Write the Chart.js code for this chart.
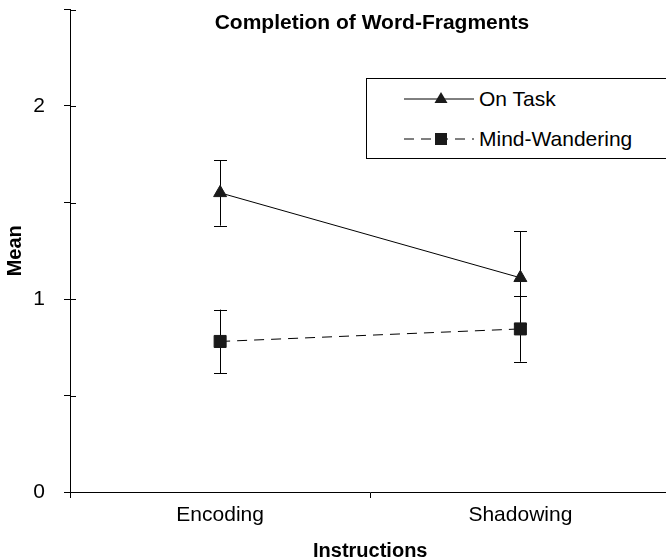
<!DOCTYPE html>
<html>
<head>
<meta charset="utf-8">
<script src="https://cdn.jsdelivr.net/npm/chart.js@4"></script>
<style>
  body { margin: 0; overflow: hidden; background: #fff; font-family: "Liberation Sans", Arial, sans-serif; }
  #wrap { position: relative; width: 680px; height: 560px; }
  #titulo { position: absolute; left: 70px; width: 604px; top: 10px; text-align: center; font-weight: bold; font-size: 21px; line-height: 24px; color: #000; }
  #legenda { position: absolute; left: 366px; top: 78px; width: 330px; height: 79px; border: 1px solid #000; background: #fff; }
  .item { position: absolute; left: 37px; height: 24px; font-size: 21px; line-height: 24px; color: #000; white-space: nowrap; }
  .item svg { position: absolute; left: 0; top: 2px; }
  .item span { position: absolute; left: 75px; top: 0; }
</style>
</head>
<body>
<div id="wrap">
  <canvas id="grafico"></canvas>
  <div id="titulo">Completion of Word-Fragments</div>
  <div id="legenda">
    <div class="item" style="top:8px">
      <svg width="72" height="20"><line x1="0" y1="10" x2="70" y2="10" stroke="#000" stroke-width="1"/><polygon points="37,3 43.5,14 30.5,14" fill="#1a1a1a"/></svg>
      <span>On Task</span>
    </div>
    <div class="item" style="top:48px">
      <svg width="72" height="20"><line x1="0" y1="10" x2="70" y2="10" stroke="#000" stroke-width="1" stroke-dasharray="10,7"/><rect x="31" y="4" width="12" height="12" fill="#1a1a1a"/></svg>
      <span>Mind-Wandering</span>
    </div>
  </div>
</div>
<script>
const categorias = ['Encoding', 'Shadowing'];
const onTask = [1.55, 1.11];
const onTaskErro = [0.17, 0.24];
const mindWandering = [0.78, 0.845];
const mindWanderingErro = [0.165, 0.17];
const yMin = 0, yMax = 2.5, yPasso = 0.5;

const fonte = "'Liberation Sans', Arial, sans-serif";

// barras de erro desenhadas pelas escalas do grafico
const barrasErro = {
  id: 'barrasErro',
  beforeDatasetsDraw(chart) {
    const ctx = chart.ctx;
    const x = chart.scales.x, y = chart.scales.y;
    ctx.save();
    ctx.strokeStyle = '#000';
    ctx.lineWidth = 1;
    chart.data.datasets.forEach(ds => {
      ds.data.forEach((v, i) => {
        const px = Math.round(x.getPixelForValue(i)) + 0.5;
        const topo = y.getPixelForValue(v + ds.erros[i]);
        const base = y.getPixelForValue(v - ds.erros[i]);
        ctx.beginPath();
        ctx.moveTo(px, topo); ctx.lineTo(px, base);
        ctx.moveTo(px - 6.5, Math.round(topo) + 0.5); ctx.lineTo(px + 6.5, Math.round(topo) + 0.5);
        ctx.moveTo(px - 6.5, Math.round(base) + 0.5); ctx.lineTo(px + 6.5, Math.round(base) + 0.5);
        ctx.stroke();
      });
    });
    ctx.restore();
  }
};

// marcas do eixo y cruzando a linha do eixo
const marcasY = {
  id: 'marcasY',
  afterDraw(chart) {
    const ctx = chart.ctx;
    const y = chart.scales.y;
    ctx.save();
    ctx.strokeStyle = '#000';
    ctx.lineWidth = 1;
    y.ticks.forEach(t => {
      const py = Math.round(y.getPixelForValue(t.value)) + 0.5;
      ctx.beginPath();
      ctx.moveTo(y.right, py); ctx.lineTo(y.right + 6, py);
      ctx.stroke();
    });
    ctx.restore();
  }
};

new Chart(document.getElementById('grafico'), {
  type: 'line',
  data: {
    labels: categorias,
    datasets: [{
      label: 'On Task',
      data: onTask,
      erros: onTaskErro,
      borderColor: '#000',
      borderWidth: 1,
      pointStyle: 'triangle',
      pointRadius: 7.5,
      pointBackgroundColor: '#1a1a1a',
      pointBorderColor: '#1a1a1a',
      pointBorderWidth: 1,
      tension: 0
    }, {
      label: 'Mind-Wandering',
      data: mindWandering,
      erros: mindWanderingErro,
      borderColor: '#000',
      borderWidth: 1,
      borderDash: [10, 7],
      pointStyle: 'rect',
      pointRadius: 8.5,
      pointBackgroundColor: '#1a1a1a',
      pointBorderColor: '#1a1a1a',
      pointBorderWidth: 1,
      tension: 0
    }]
  },
  options: {
    responsive: true,
    maintainAspectRatio: false,
    animation: false,
    layout: { padding: { top: 9, right: 6, bottom: 0, left: 0 } },
    plugins: {
      legend: { display: false },
      title: { display: false },
      tooltip: { enabled: false }
    },
    scales: {
      x: {
        type: 'category',
        offset: true,
        afterFit: s => { s.height = 68; s.paddingLeft = 0; s.paddingRight = 0; },
        grid: { offset: true, drawOnChartArea: false, tickLength: 6, color: '#000' },
        border: { color: '#000' },
        ticks: { color: '#000', padding: 5, font: { family: fonte, size: 21 } },
        title: {
          display: true, text: 'Instructions', color: '#000',
          font: { family: fonte, size: 20, weight: 'bold', lineHeight: 0.9 },
          padding: { top: 0, bottom: 0 }
        }
      },
      y: {
        min: yMin,
        max: yMax,
        afterFit: s => { s.width = 70; s.paddingTop = 0; s.paddingBottom = 0; },
        grid: { drawOnChartArea: false, tickLength: 6, color: '#000' },
        border: { color: '#000' },
        ticks: {
          stepSize: yPasso,
          color: '#000',
          padding: 19,
          font: { family: fonte, size: 21 },
          callback: v => Number.isInteger(v) ? v : ''
        },
        title: {
          display: true, text: 'Mean', color: '#000',
          font: { family: fonte, size: 20, weight: 'bold' },
          padding: { top: 3, bottom: 0 }
        }
      }
    }
  },
  plugins: [barrasErro, marcasY]
});
</script>
</body>
</html>
